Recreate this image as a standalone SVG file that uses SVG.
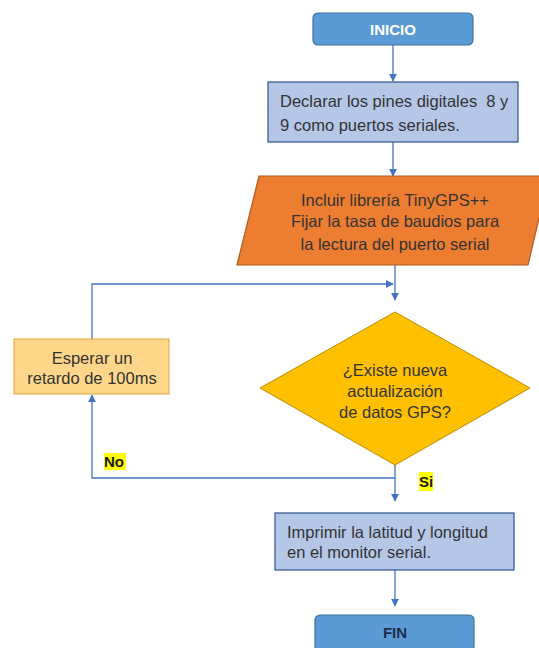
<svg xmlns="http://www.w3.org/2000/svg" width="539" height="648" viewBox="0 0 539 648">
  <style>
    .txt { font-family: "Liberation Sans", Arial, sans-serif; font-size: 16.5px; fill: #333333; }
    .mid { text-anchor: middle; }
    .term { fill: #5b9bd5; stroke: #41719c; stroke-width: 1.2; }
    .proc { fill: #b4c7e7; stroke: #2f528f; stroke-width: 1.2; }
    .io { fill: #ed7d31; stroke: #ae5a21; stroke-width: 1.2; }
    .dec { fill: #ffc000; stroke: #bc8c00; stroke-width: 1; }
    .wait { fill: #ffd68a; stroke: #e3a43a; stroke-width: 1; }
    .bold { font-weight: bold; }
    .conn { fill: none; stroke: #4472c4; stroke-width: 1.3; }
    .hl { fill: #ffff00; }
  </style>
  <defs>
    <marker id="arr" viewBox="0 0 10 10" refX="9" refY="5" markerWidth="8" markerHeight="8" markerUnits="userSpaceOnUse" orient="auto">
      <path d="M0,0 L10,5 L0,10 z" fill="#4472c4"/>
    </marker>
  </defs>

  <!-- connectors -->
  <g id="connectors">
    <line class="conn" x1="393" y1="45" x2="393" y2="81" marker-end="url(#arr)"/>
    <line class="conn" x1="393" y1="142" x2="393" y2="176" marker-end="url(#arr)"/>
    <line class="conn" x1="395" y1="265" x2="395" y2="300" marker-end="url(#arr)"/>
    <polyline class="conn" points="92,339 92,284 393,284" marker-end="url(#arr)"/>
    <polyline class="conn" points="395,465 395,478 92,478 92,395" marker-end="url(#arr)"/>
    <line class="conn" x1="395" y1="478" x2="395" y2="501" marker-end="url(#arr)"/>
    <line class="conn" x1="395" y1="570" x2="395" y2="606" marker-end="url(#arr)"/>
    <rect class="hl" x="104" y="453" width="22" height="17"/>
    <text class="txt bold" x="104" y="467" style="fill:#1a1a1a;font-size:15px">No</text>
    <rect class="hl" x="419" y="472" width="14" height="19"/>
    <text class="txt bold" x="419" y="487" style="fill:#1a1a1a;font-size:15px">Si</text>
  </g>

  <g id="inicio">
    <rect class="term" x="313" y="13" width="160" height="32" rx="5"/>
    <text class="txt bold mid" x="393" y="35" style="fill:#ffffff;font-size:15px">INICIO</text>
  </g>

  <g id="declarar">
    <rect class="proc" x="268" y="82" width="250" height="60"/>
    <text class="txt" x="280" y="107" xml:space="preserve">Declarar los pines digitales  8 y</text>
    <text class="txt" x="280" y="131">9 como puertos seriales.</text>
  </g>

  <g id="incluir">
    <polygon class="io" points="259,176 549,176 528,265 237,265"/>
    <text class="txt mid" x="395" y="206">Incluir librería TinyGPS++</text>
    <text class="txt mid" x="395" y="227">Fijar la tasa de baudios para</text>
    <text class="txt mid" x="395" y="250">la lectura del puerto serial</text>
  </g>

  <g id="decision">
    <polygon class="dec" points="395,312 530,388 395,465 260,388"/>
    <text class="txt mid" x="395" y="376">¿Existe nueva</text>
    <text class="txt mid" x="395" y="397">actualización</text>
    <text class="txt mid" x="395" y="418">de datos GPS?</text>
  </g>

  <g id="esperar">
    <rect class="wait" x="14" y="339" width="155" height="55"/>
    <text class="txt mid" x="92" y="364">Esperar un</text>
    <text class="txt mid" x="92" y="384">retardo de 100ms</text>
  </g>

  <g id="imprimir">
    <rect class="proc" x="275" y="513" width="239" height="57"/>
    <text class="txt" x="287" y="538">Imprimir la latitud y longitud</text>
    <text class="txt" x="287" y="558">en el monitor serial.</text>
  </g>

  <g id="fin">
    <rect class="term" x="315" y="615" width="159" height="36" rx="5"/>
    <text class="txt bold mid" x="395" y="638" style="fill:#1f2d4d;font-size:15px">FIN</text>
  </g>
</svg>
